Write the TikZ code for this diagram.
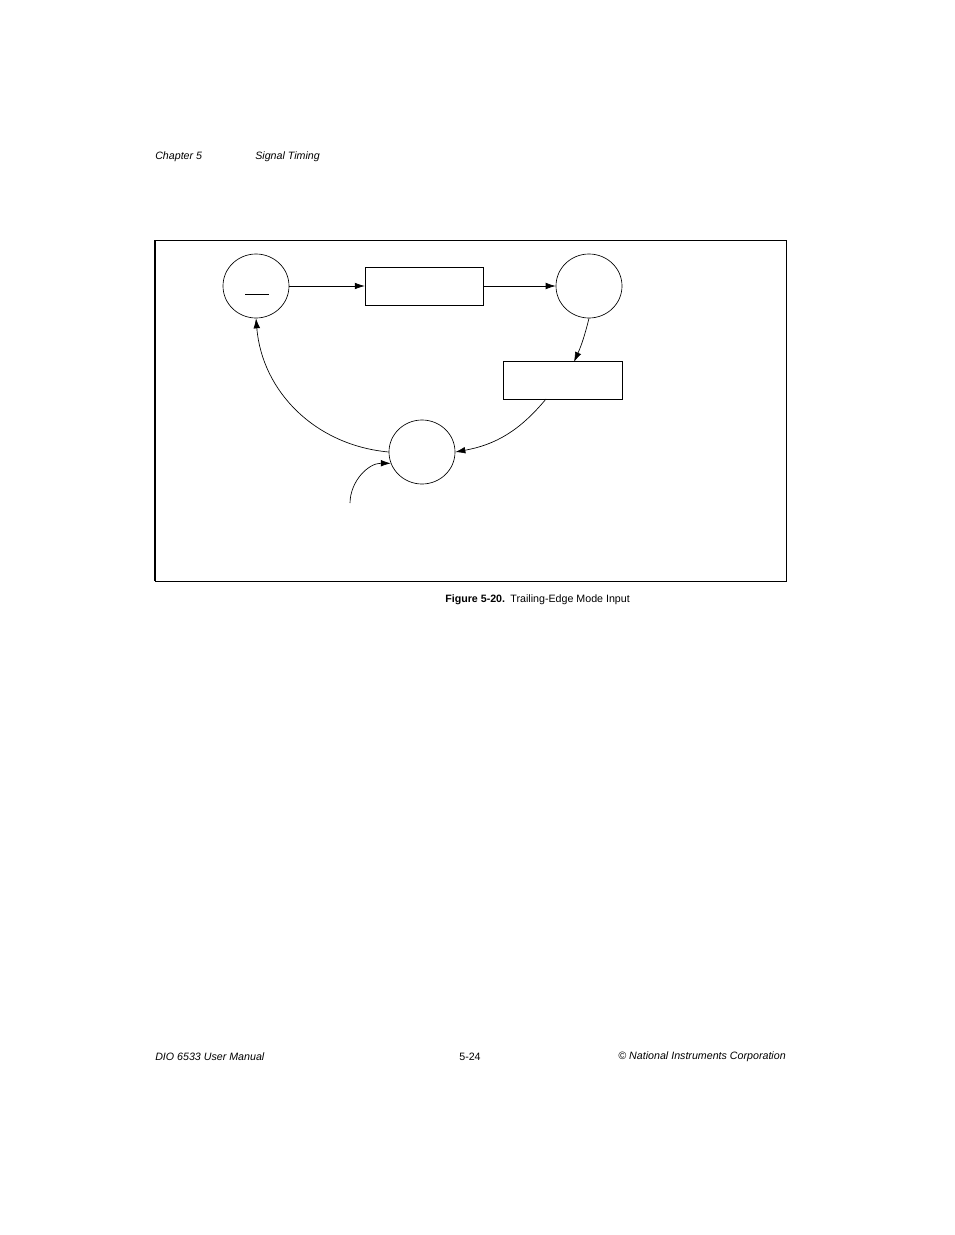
\documentclass[tikz,border=0pt]{standalone}
\usepackage{fontspec}
\setmainfont{Liberation Sans}
\usetikzlibrary{arrows.meta,shapes.geometric}
\begin{document}
\begin{tikzpicture}[x=0.75pt,y=-0.75pt,
  st/.style={draw,ellipse,minimum width=49.5pt,minimum height=48pt,inner sep=0pt,line width=0.5pt},
  bx/.style={draw,rectangle,minimum width=89pt,minimum height=28.5pt,inner sep=0pt,line width=0.6pt},
  ar/.style={line width=0.5pt,-{Latex[length=7.5pt,width=5pt]}},
  txt/.style={font=\fontsize{8}{9}\selectfont,inner sep=0pt}]
\fill[white] (0,0) rectangle (954,1235);
\useasboundingbox (0,0) rectangle (954,1235);
\node[txt,anchor=west] (h1) at (155,157) {\itshape Chapter 5};
\node[txt,anchor=west] (h2) at (255,157) {\itshape Signal Timing};
\draw[line width=0.6pt] (155,240) rectangle (786,581);
\draw[line width=1.2pt] (155,240) -- (155,581);
\node[st] (A) at (256,286) {};
\draw[line width=0.6pt] (245,294) -- (269,294);
\node[bx] (B) at (424.5,286) {};
\node[st] (C) at (589,286) {};
\node[bx] (D) at (563,380.5) {};
\node[st] (E) at (422,452) {};
\coordinate (in) at (350,503);
\coordinate (Dt) at (574,362);
\coordinate (Db) at (546,399);
\draw[ar] (A.east) -- (B.west);
\draw[ar] (B.east) -- (C.west);
\draw[ar] (C.south) to[bend left=5] (Dt);
\draw[ar] (Db) to[bend left=20] (E.east);
\draw[ar] (E.west) to[bend left=40] (A.south);
\draw[ar] (in) to[bend left=45] (E.200);
\node[txt,anchor=west] (cap) at (445,600) {\textbf{Figure 5-20.}\enspace Trailing-Edge Mode Input};
\node[txt,anchor=west] (f1) at (155,1057) {\itshape DIO 6533 User Manual};
\node[txt] (f2) at (470,1057) {5-24};
\node[txt,anchor=east] (f3) at (786,1057) {\itshape © National Instruments Corporation};
\end{tikzpicture}
\end{document}
